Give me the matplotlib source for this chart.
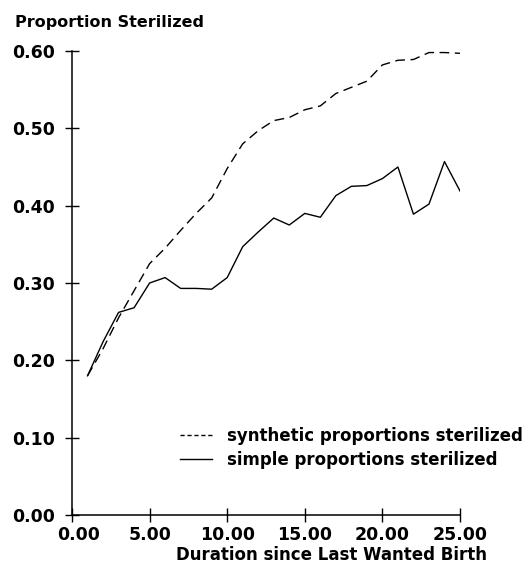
import numpy as np
import matplotlib
matplotlib.use('Agg')
import matplotlib.pyplot as plt
import matplotlib.transforms as mtrans
from matplotlib.lines import Line2D

# Data
duration = np.arange(1, 26)
synthetic = [0.180, 0.215, 0.255, 0.290, 0.325, 0.345, 0.368, 0.390, 0.410, 0.448,
             0.480, 0.497, 0.510, 0.514, 0.524, 0.529, 0.545, 0.553, 0.561, 0.582,
             0.588, 0.589, 0.598, 0.598, 0.597]
simple = [0.180, 0.224, 0.262, 0.268, 0.300, 0.307, 0.293, 0.293, 0.292, 0.307,
          0.347, 0.366, 0.384, 0.375, 0.390, 0.385, 0.413, 0.425, 0.426, 0.435,
          0.450, 0.389, 0.402, 0.457, 0.419]

xticks = [0, 5, 10, 15, 20, 25]
yticks = [0.0, 0.1, 0.2, 0.3, 0.4, 0.5, 0.6]

plt.rcParams['font.family'] = 'DejaVu Sans'
plt.rcParams['font.weight'] = 'bold'

W, H = 532, 568
fig = plt.figure(figsize=(W / 100, H / 100), dpi=100)
ax = fig.add_axes([72 / W, (H - 515) / H, 388 / W, 464 / H])

ax.plot(duration, synthetic, color='black', lw=1.0, dashes=(7, 4))
ax.plot(duration, simple, color='black', lw=1.0)

ax.set_xlim(0, 25)
ax.set_ylim(0, 0.6)
ax.spines['top'].set_visible(False)
ax.spines['right'].set_visible(False)
for s in ('left', 'bottom'):
    ax.spines[s].set_linewidth(1.1)

ax.set_xticks(xticks)
ax.set_xticklabels([f'{v:.2f}' for v in xticks])
ax.set_yticks(yticks)
ax.set_yticklabels([f'{v:.2f}' for v in yticks])
ax.tick_params(direction='inout', length=10, width=1.0, labelsize=12.5)
ax.tick_params(axis='x', pad=3)
ax.tick_params(axis='y', pad=7.5)
for lbl in ax.get_xticklabels() + ax.get_yticklabels():
    lbl.set_fontweight('bold')
# first x label sits a little right of the origin
first = ax.get_xticklabels()[0]
first.set_transform(first.get_transform() + mtrans.ScaledTranslation(6.5 / 100, 0, fig.dpi_scale_trans))

handles = [Line2D([], [], color='black', lw=1.0, dashes=(3, 2)),
           Line2D([], [], color='black', lw=1.0)]
leg = ax.legend(handles, ['synthetic proportions sterilized', 'simple proportions sterilized'],
                loc='upper left', bbox_to_anchor=((180 - 72) / 388, (515 - 427) / 464),
                frameon=False, borderaxespad=0, borderpad=0,
                handlelength=1.9, handletextpad=0.9, labelspacing=0.35,
                prop={'size': 12, 'weight': 'bold'})

fig.text(15 / W, 1 - 22 / H, 'Proportion Sterilized', fontsize=11.5, fontweight='bold',
         ha='left', va='center')
fig.text(331 / W, 1 - 555 / H, 'Duration since Last Wanted Birth', fontsize=12,
         fontweight='bold', ha='center', va='center')

fig.savefig('out.png', dpi=100)
